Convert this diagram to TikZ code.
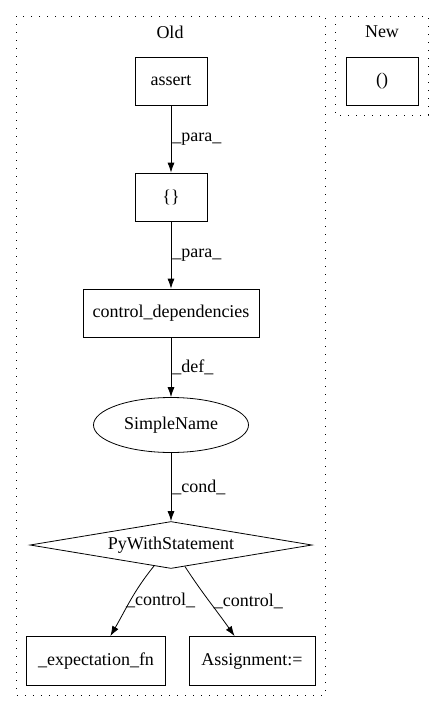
\documentclass[tikz,border=0pt]{standalone}
\usepackage{fontspec}
\setmainfont{Liberation Serif}
\usetikzlibrary{arrows.meta, shapes.geometric, positioning}

\begin{document}
\begin{tikzpicture}[x=1pt, y=1pt, >={Latex[length=10pt,width=7pt]}, line width=0.8pt,
  every node/.style={font=\fontsize{18}{20}\selectfont},
  cluster/.style={draw, dash pattern=on 1.4pt off 6.6pt},
  box/.style={draw, rectangle, minimum height=48pt, inner sep=0pt},
  edge/.style={->},
  elbl/.style={right, inner sep=1pt}]
\useasboundingbox (0,0) rectangle (445,-712);
% clusters
\draw[cluster] (16,-16) rectangle (325,-695);
\draw[cluster] (335,-16) rectangle (428,-115);
\node (oldlbl) at (170,-32) {Old};
\node (newlbl) at (382,-32) {New};
% old graph
\node[box, minimum width=72pt] (assert) at (171,-81) {assert};
\node[box, minimum width=72pt] (braces) at (171,-197) {\{\}};
\node[box, minimum width=176pt] (ctrldep) at (171,-313) {control\_dependencies};
\node[draw, ellipse, minimum width=155pt, minimum height=55pt, inner sep=0pt] (sname) at (171,-425) {SimpleName};
\node[draw, diamond, shape aspect=6, minimum width=282pt, minimum height=47pt, inner sep=0pt] (pws) at (171,-545) {PyWithStatement};
\node[box, minimum width=139pt, minimum height=49pt] (expfn) at (96,-661) {\_expectation\_fn};
\node[box, minimum width=126pt, minimum height=49pt] (assign) at (252,-661) {Assignment:=};
% new graph
\node[box, minimum width=72pt] (paren) at (382,-81) {()};

\draw[edge] (assert) -- node[elbl] {\_para\_} (braces);
\draw[edge] (braces) -- node[elbl] {\_para\_} (ctrldep);
\draw[edge] (ctrldep) -- node[elbl] {\_def\_} (sname);
\draw[edge] (sname) -- node[elbl] {\_cond\_} (pws);
\draw[edge] (pws) to[out=-129, in=60] node[pos=0.5, right, inner sep=0pt, xshift=-5pt] {\_control\_} (expfn);
\draw[edge] (pws) to[out=-57, in=125] node[pos=0.5, right, inner sep=4pt] {\_control\_} (assign);

\end{tikzpicture}
\end{document}
